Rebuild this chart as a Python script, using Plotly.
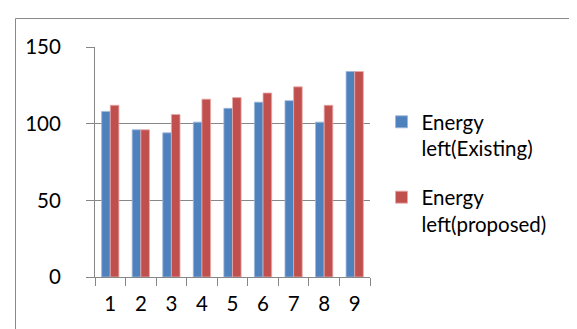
import plotly.graph_objects as go

categories = ["1", "2", "3", "4", "5", "6", "7", "8", "9"]
existing = [108, 96, 94, 101, 110, 114, 115, 101, 134]
proposed = [112, 96, 106, 116, 117, 120, 124, 112, 134]
series_names = ["Energy<br>left(Existing)", "Energy<br>left(proposed)"]
y_ticks = [0, 50, 100, 150]

W, H = 577, 329
L, R, T, B = 87, 215, 39, 60
pw, ph = W - L - R, H - T - B

def px_x(p):
    return (p - L) / pw

def px_y(p):
    return (H - B - p) / ph

FS = 20.5

fig = go.Figure()
fig.add_trace(go.Bar(x=categories, y=existing, name=series_names[0],
                     marker=dict(color="#4F81BD", line=dict(color="#9db8dc", width=0.8)),
                     legendgroup="a"))
fig.add_trace(go.Bar(x=categories, y=proposed, name=series_names[1],
                     marker=dict(color="#C0504D", line=dict(color="#e8aaa8", width=0.8)),
                     legendgroup="b"))

axis_col = "#878787"
fig.update_layout(
    width=W, height=H,
    margin=dict(l=L, r=R, t=T, b=B, autoexpand=False),
    paper_bgcolor="white", plot_bgcolor="white",
    font=dict(family="Lato", size=FS, color="black"),
    barmode="group", bargap=0.435, bargroupgap=0,
    showlegend=True,
    legend=dict(x=px_x(373.5), y=px_y(94), xanchor="left", yanchor="top",
                valign="top", tracegroupgap=19, bgcolor="rgba(0,0,0,0)",
                font=dict(family="Lato", size=FS, color="black")),
    xaxis=dict(type="category", showline=True, linecolor=axis_col, linewidth=1.2,
               ticks="outside", tickson="boundaries", ticklen=8, tickcolor=axis_col,
               tickwidth=1.2, showgrid=False, ticklabelstandoff=8),
    yaxis=dict(range=[0, 150], tickvals=y_ticks, showline=True, linecolor=axis_col,
               linewidth=1.2, ticks="outside", ticklen=8, tickcolor=axis_col, tickwidth=1.2,
               showgrid=True, gridcolor=axis_col, gridwidth=1.2, zeroline=False,
               ticklabelstandoff=21),
    shapes=[dict(type="rect", xref="paper", yref="paper",
                 x0=px_x(7.5), x1=px_x(590), y0=px_y(340), y1=px_y(10.5),
                 line=dict(color="#8a8a8a", width=1), fillcolor="rgba(0,0,0,0)",
                 layer="below")],
)

fig.write_html("out.html")
